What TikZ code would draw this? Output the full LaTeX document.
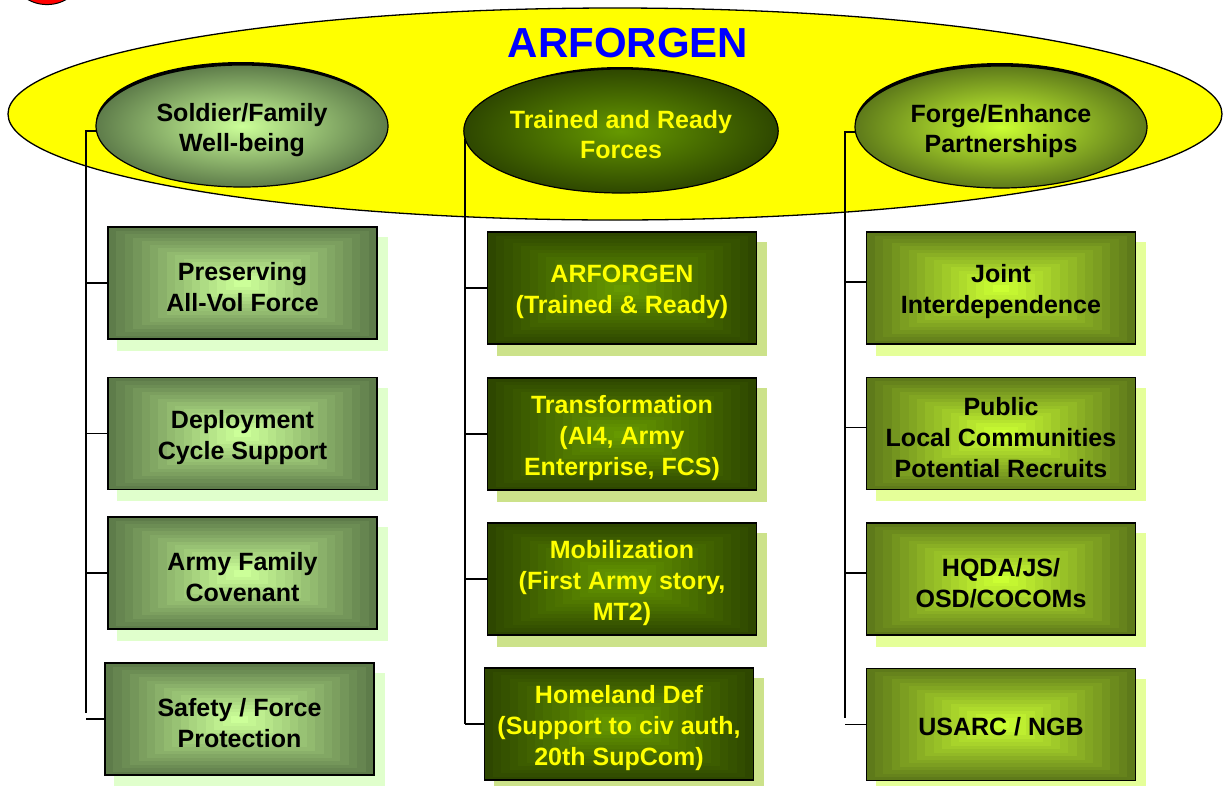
\documentclass[tikz,border=0pt]{standalone}
\usepackage{fontspec}
\setmainfont{Liberation Sans}
\usetikzlibrary{shapes.geometric,calc}
\pgfdeclarelayer{bglayer}
\pgfdeclarelayer{shadlayer}
\pgfsetlayers{bglayer,shadlayer,main}
\definecolor{lout}{HTML}{5E7C4A}
\definecolor{lctr}{HTML}{CCFF99}
\definecolor{lsh}{HTML}{E0FFCC}
\definecolor{mout}{HTML}{2E4700}
\definecolor{mctr}{HTML}{669900}
\definecolor{msh}{HTML}{CCE28A}
\definecolor{rout}{HTML}{5E7A1A}
\definecolor{rctr}{HTML}{CCFF33}
\definecolor{rsh}{HTML}{E5FF99}
\definecolor{ylw}{HTML}{FFFF00}
\newcommand\topgap{\rule{0pt}{26pt}}
\tikzset{
  outc/.store in=\gOut, inc/.store in=\gIn,
  gbox/.style={draw=black, line width=1.3pt, minimum width=269pt, minimum height=112pt,
    inner sep=0pt, align=center, font=\fontsize{25}{31}\selectfont\bfseries,
    path picture={\foreach \gk in {0,...,15}{
      \pgfmathsetmacro\gf{\gk/32}
      \pgfmathtruncatemacro\gm{round(100*\gk/15)}
      \fill[\gIn!\gm!\gOut]
        ($(path picture bounding box.south west)!\gf!(path picture bounding box.north east)$)
        rectangle
        ($(path picture bounding box.north east)!\gf!(path picture bounding box.south west)$);}}},
  lbox/.style={gbox, outc=lout, inc=lctr, text=black},
  mbox/.style={gbox, outc=mout, inc=mctr, text=ylw},
  rbox/.style={gbox, outc=rout, inc=rctr, text=black},
  gell/.style={ellipse, draw=black, line width=1.2pt, minimum width=292pt, minimum height=122pt,
    inner sep=0pt, align=center, font=\fontsize{25}{30}\selectfont\bfseries, shading=radial},
  conn/.style={draw=black, line width=1.5pt},
}
\begin{document}
\begin{tikzpicture}[x=1pt,y=-1pt]
\clip (0,0) rectangle (1226,785);
% red circle at top left corner
\filldraw[fill=red, draw=black, line width=1pt] (47,-34) circle (38.6);
% big ellipse
\begin{pgfonlayer}{bglayer}
\node[ellipse, draw=black, line width=1.3pt, fill=ylw, minimum width=1214pt, minimum height=212pt, inner sep=0pt] (big) at (615,114) {};
\end{pgfonlayer}
\node[text=blue, font=\fontsize{42}{48}\selectfont\bfseries] (title) at (628,43) {ARFORGEN};
% ellipses
\node[gell, inner color=lctr, outer color=lout, text=black] (e1) at (242,126) {\topgap Soldier/Family\\Well-being};
\node[gell, inner color=mctr, outer color=mout, text=ylw, minimum width=290pt, minimum height=124pt] (e2) at (621,131) {\topgap Trained and Ready\\Forces};
\node[gell, inner color=rctr, outer color=rout, text=black] (e3) at (1001,127) {\topgap Forge/Enhance\\Partnerships};
\begin{pgfonlayer}{shadlayer}
\foreach \e in {e1,e2,e3}{
  \node[ellipse, fill=black, minimum width=290pt, minimum height=122pt, inner sep=0pt] at ([shift={(-1,-3)}]\e.center) {};
}
\end{pgfonlayer}
% boxes
\node[lbox] (b1) at (242.5,283) {\topgap Preserving\\All-Vol Force};
\node[lbox] (b2) at (242.5,433.5) {\topgap Deployment\\Cycle Support};
\node[lbox] (b3) at (242.5,573) {\topgap Army Family\\Covenant};
\node[lbox] (b4) at (239.5,719) {\topgap Safety / Force\\Protection};
\node[mbox] (m1) at (622,288) {\topgap ARFORGEN\\(Trained \& Ready)};
\node[mbox] (m2) at (622,434) {\topgap Transformation\\(AI4, Army\\Enterprise, FCS)};
\node[mbox] (m3) at (622,579) {\topgap Mobilization\\(First Army story,\\MT2)};
\node[mbox] (m4) at (619,724) {\topgap Homeland Def\\(Support to civ auth,\\20th SupCom)};
\node[rbox] (r1) at (1001,288) {\topgap Joint\\Interdependence};
\node[rbox] (r2) at (1001,433.5) {\topgap Public\\Local Communities\\Potential Recruits};
\node[rbox] (r3) at (1001,579) {\topgap HQDA/JS/\\OSD/COCOMs};
\node[rbox] (r4) at (1001,724.5) {\rule{0pt}{22pt}USARC / NGB};
% shadows
\begin{pgfonlayer}{shadlayer}
\foreach \b/\c in {b1/lsh,b2/lsh,b3/lsh,b4/lsh,m1/msh,m2/msh,m3/msh,m4/msh,r1/rsh,r2/rsh,r3/rsh,r4/rsh}{
  \fill[\c] ([shift={(10,11)}]\b.north west) rectangle ([shift={(10,11)}]\b.south east);
}
\end{pgfonlayer}
% connectors
\coordinate (Lb) at (86,713);
\coordinate (Mb) at (465,724);
\coordinate (Rb) at (845,718);
\draw[conn] (e1.182) -| (Lb);
\draw[conn] (e2.183) -| (Mb);
\draw[conn] (e3.182) -| (Rb);
\foreach \b in {b1,b2,b3,b4}{\draw[conn] (\b.west) -- (\b.west -| Lb);}
\foreach \b in {m1,m2,m3,m4}{\draw[conn] (\b.west) -- (\b.west -| Mb);}
\foreach \b in {r1,r2,r3}{\draw[conn] ([yshift=6pt]\b.west) -- ([yshift=6pt]\b.west -| Rb);}
\draw[conn] (r4.west) -- (r4.west -| Rb);
\end{tikzpicture}
\end{document}
